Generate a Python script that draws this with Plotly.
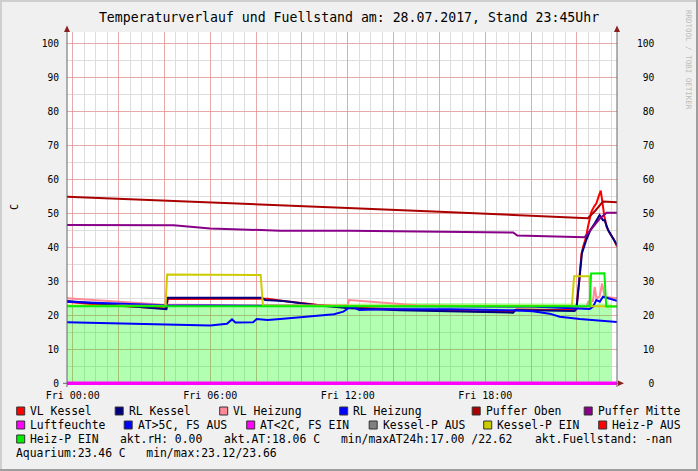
import pandas as pd
import plotly.graph_objects as go

# ---------------- data ----------------
DAY = pd.Timestamp("2017-07-28 00:00")
title_text = "Temperaturverlauf und Fuellstand am: 28.07.2017, Stand 23:45Uhr"

# hours after 00:00 (28.07.2017) and values in C
aqua_h = [-0.25, 3.0, 6.0, 9.0, 12.0, 15.0, 18.0, 21.0, 23.5]
aqua_v = [23.2, 23.15, 23.12, 23.3, 23.5, 23.66, 23.6, 23.5, 23.46]

vlk_h = [-0.25, 1.0, 2.5, 3.82, 4.1, 4.14, 8.25, 8.5, 9.2, 10.65, 12.1, 14.28, 19.22, 19.36, 21.0, 21.98,
         22.1, 22.2, 22.27, 22.4, 22.48, 22.56, 22.63, 22.75, 22.85, 22.95, 23.04, 23.1, 23.2, 23.3, 23.45, 23.6, 23.75]
vlk_v = [24.0, 23.2, 22.6, 22.0, 22.0, 24.8, 24.8, 24.9, 24.2, 23.1, 22.3, 21.7, 21.0, 21.7, 21.6, 21.8,
         30.0, 38.0, 40.2, 43.0, 46.0, 49.0, 50.5, 52.0, 53.0, 55.0, 56.7, 54.0, 49.0, 46.0, 44.0, 42.5, 40.2]

rlk_h = [-0.25, 1.5, 3.0, 3.82, 4.08, 4.14, 8.25, 8.4, 9.19, 10.65, 12.1, 14.28, 19.22, 19.3, 21.9, 21.98,
         22.06, 22.15, 22.22, 22.41, 22.59, 22.78, 22.99, 23.14, 23.21, 23.36, 23.57, 23.75]
rlk_v = [24.2, 23.2, 22.3, 21.8, 21.8, 25.2, 25.2, 24.5, 24.2, 23.0, 22.1, 21.5, 20.8, 21.6, 21.3, 22.0,
         28.0, 34.3, 38.3, 42.2, 45.1, 47.1, 49.5, 48.0, 48.0, 45.1, 42.7, 40.7]

vlh_h = [-0.25, 2.0, 3.82, 8.3, 12.0, 12.05, 13.0, 15.0, 19.36, 22.41, 22.5, 22.7, 22.78, 22.85, 22.99, 23.1, 23.21, 23.75]
vlh_v = [25.0, 24.0, 23.2, 22.9, 22.9, 24.5, 24.0, 23.0, 22.5, 22.5, 24.0, 24.2, 28.4, 25.0, 25.5, 29.4, 25.5, 25.0]

rlh_h = [-0.25, 2.0, 4.0, 8.0, 12.0, 16.0, 20.0, 22.56, 22.7, 22.85, 23.0, 23.14, 23.75]
rlh_v = [24.0, 23.5, 23.0, 22.8, 22.7, 22.7, 22.6, 21.9, 22.5, 24.5, 24.0, 25.5, 24.3]

po_h = [-0.25, 4.0, 8.0, 12.0, 16.0, 20.0, 22.48, 22.8, 23.14, 23.75]
po_v = [54.9, 53.8, 52.8, 51.6, 50.5, 49.4, 48.6, 50.8, 53.5, 53.3]

pm_h = [-0.25, 4.4, 6.0, 8.2, 9.05, 12.1, 19.22, 19.4, 22.34, 22.7, 23.0, 23.29, 23.75]
pm_v = [46.6, 46.5, 45.6, 45.0, 44.9, 44.9, 44.4, 43.5, 43.0, 46.0, 48.5, 50.2, 50.2]

rh_h = [-0.25, 23.75]
rh_v = [0.0, 0.0]

at_h = [-0.25, 2.0, 4.0, 6.0, 6.73, 6.95, 7.1, 7.87, 8.03, 8.5, 9.19, 10.65, 11.4, 11.81, 12.03, 12.2, 12.5,
        13.55, 16.46, 19.22, 20.07, 20.81, 21.25, 22.12, 23.0, 23.75]
at_v = [18.0, 17.6, 17.2, 17.0, 17.5, 18.8, 17.9, 18.0, 18.9, 18.6, 19.0, 19.8, 20.3, 21.1, 22.1, 22.6, 21.6,
        21.8, 21.8, 21.5, 21.2, 20.5, 19.6, 18.9, 18.4, 18.06]

kp_h = [-0.25, 4.05, 4.12, 8.2, 8.3, 21.78, 21.88, 22.55, 22.62, 23.75]
kp_v = [22.8, 22.8, 32.0, 31.9, 22.8, 22.8, 31.5, 31.5, 22.7, 22.7]

hp_h = [-0.25, 22.55, 22.62, 23.2, 23.28, 23.75]
hp_v = [22.7, 22.7, 32.3, 32.4, 22.6, 22.6]

x_tick_hours = [0, 2, 4, 6, 8, 10, 12, 14, 16, 18, 20, 22]
x_tick_labels = ["Fri 00:00", "", "", "Fri 06:00", "", "", "Fri 12:00", "", "", "Fri 18:00", "", ""]
y_ticks = [0, 10, 20, 30, 40, 50, 60, 70, 80, 90, 100]
y_range = [-0.5, 103.4]

legend_rows = [
    [("VL Kessel", "#ff0000"), ("RL Kessel", "#000080"), ("VL Heizung", "#ff8899"),
     ("RL Heizung", "#0000ff"), ("Puffer Oben", "#aa0000"), ("Puffer Mitte", "#880088")],
    [("Luftfeuchte", "#ff00ff"), ("AT>5C, FS AUS", "#0000ff"), ("AT<2C, FS EIN", "#ff00ff"),
     ("Kessel-P AUS", "#808080"), ("Kessel-P EIN", "#cccc00"), ("Heiz-P AUS", "#ff0000")],
    [("Heiz-P EIN", "#00ee00")],
]
info_row3 = ["akt.rH: 0.00", "akt.AT:18.06 C", "min/maxAT24h:17.00 /22.62", "akt.Fuellstand: -nan"]
info_row4 = "Aquarium:23.46 C   min/max:23.12/23.66"
watermark = "RRDTOOL / TOBI OETIKER"

# ---------------- layout geometry ----------------
W, H = 698, 471
PL, PR, PT, PB = 67, 617, 32, 385
FONT = "DejaVu Sans Mono"


def px(x):
    return (x - PL) / (PR - PL)


def py(y):
    return (PB - y) / (PB - PT)


def tx(hours):
    return [DAY + pd.Timedelta(hours=h) for h in hours]


fig = go.Figure()

fig.add_trace(go.Scatter(x=tx(aqua_h), y=aqua_v, mode="lines", line=dict(width=0),
                         fill="tozeroy", fillcolor="rgba(0,255,0,0.30)", hoverinfo="skip"))

series = [
    (vlk_h, vlk_v, "#ff0000", 2),
    (rlk_h, rlk_v, "#000080", 2),
    (vlh_h, vlh_v, "#ff8899", 2),
    (rlh_h, rlh_v, "#0000ff", 2),
    (po_h, po_v, "#aa0000", 2),
    (pm_h, pm_v, "#880088", 2),
    (rh_h, rh_v, "#ff00ff", 3.5),
    (at_h, at_v, "#0000ff", 2),
    (kp_h, kp_v, "#cccc00", 2),
    (hp_h, hp_v, "#00ee00", 2),
]
for hs, vs, col, w in series:
    fig.add_trace(go.Scatter(x=tx(hs), y=vs, mode="lines", line=dict(color=col, width=w)))

# dummy trace for right axis
fig.add_trace(go.Scatter(x=tx([-0.25]), y=[0], yaxis="y2", mode="lines", showlegend=False,
                         line=dict(width=0), hoverinfo="skip"))

MAJ = "rgba(240,120,120,0.5)"
MIN = "#dddddd"

shapes = []
annotations = []

# axis extensions and arrows
AX = "#666666"
ARR = "#8b1f1f"
shapes.append(dict(type="line", xref="paper", yref="y", x0=px(63), x1=px(619), y0=0, y1=0,
                   line=dict(color=AX, width=1), layer="below"))
shapes.append(dict(type="path", xref="paper", yref="paper",
                   path=f"M {px(624)} {py(383.3)} L {px(618)} {py(380.5)} L {px(618)} {py(386.1)} Z",
                   fillcolor=ARR, line=dict(width=0)))
for ax_x in (PL, PR):
    shapes.append(dict(type="line", xref="paper", yref="paper", x0=px(ax_x), x1=px(ax_x),
                       y0=py(PB + 2), y1=py(30), line=dict(color=AX, width=1)))
    shapes.append(dict(type="path", xref="paper", yref="paper",
                       path=f"M {px(ax_x)} {py(25.5)} L {px(ax_x - 3)} {py(32)} L {px(ax_x + 3)} {py(32)} Z",
                       fillcolor=ARR, line=dict(width=0)))

# frame
shapes.append(dict(type="rect", xref="paper", yref="paper", x0=px(0), x1=px(698), y0=py(0), y1=py(2),
                   fillcolor="#cfcfcf", line=dict(width=0)))
shapes.append(dict(type="rect", xref="paper", yref="paper", x0=px(0), x1=px(2), y0=py(0), y1=py(471),
                   fillcolor="#cfcfcf", line=dict(width=0)))
shapes.append(dict(type="rect", xref="paper", yref="paper", x0=px(696), x1=px(698), y0=py(0), y1=py(471),
                   fillcolor="#9e9e9e", line=dict(width=0)))
shapes.append(dict(type="rect", xref="paper", yref="paper", x0=px(0), x1=px(698), y0=py(469), y1=py(471),
                   fillcolor="#9e9e9e", line=dict(width=0)))

# legend
row_y = [411, 425, 439, 453]
row_text_x = [
    [30, 128.5, 233, 353, 485.5, 597.5],
    [30, 137.5, 260, 382.5, 497, 612],
    [30],
]
LFS = 11.4
for r, row in enumerate(legend_rows):
    for (label, col), x0 in zip(row, row_text_x[r]):
        sx = x0 - 13.3
        shapes.append(dict(type="rect", xref="paper", yref="paper",
                           x0=px(sx), x1=px(sx + 8), y0=py(row_y[r] - 4), y1=py(row_y[r] + 4),
                           fillcolor=col, line=dict(color="#333333", width=1)))
        annotations.append(dict(text=label, xref="paper", yref="paper", x=px(x0), y=py(row_y[r]),
                                xanchor="left", yanchor="middle", showarrow=False,
                                font=dict(family=FONT, size=LFS, color="#000000"),
                                borderpad=0, borderwidth=0))
for txt, x0 in zip(info_row3, [120, 224, 341, 534.7]):
    annotations.append(dict(text=txt.replace(" ", "\u00a0"), xref="paper", yref="paper", x=px(x0), y=py(row_y[2]),
                            xanchor="left", yanchor="middle", showarrow=False,
                            font=dict(family=FONT, size=LFS, color="#000000"), borderpad=0, borderwidth=0))
annotations.append(dict(text=info_row4.replace(" ", "\u00a0"), xref="paper", yref="paper", x=px(16), y=py(row_y[3]),
                        xanchor="left", yanchor="middle", showarrow=False,
                        font=dict(family=FONT, size=LFS, color="#000000"), borderpad=0, borderwidth=0))

# y axis title
annotations.append(dict(text="C", xref="paper", yref="paper", x=px(14), y=py(207), textangle=-90,
                        xanchor="center", yanchor="middle", showarrow=False,
                        font=dict(family=FONT, size=10, color="#000000")))
# watermark
annotations.append(dict(text=watermark, xref="paper", yref="paper", x=px(688), y=py(60), textangle=90,
                        xanchor="center", yanchor="middle", showarrow=False,
                        font=dict(family=FONT, size=7.5, color="#bbbbbb")))

right_labels = [("\u00a0" * (3 - len(str(v)))) + str(v) for v in y_ticks]

fig.update_layout(
    width=W, height=H,
    margin=dict(l=PL, r=W - PR, t=PT, b=H - PB, pad=0),
    paper_bgcolor="#f0f0f0", plot_bgcolor="#ffffff",
    showlegend=False,
    font=dict(family=FONT, size=10, color="#000000"),
    title=dict(text=title_text, x=0.5, xref="container", xanchor="center",
               y=1 - 17 / H, yref="container", yanchor="middle",
               font=dict(family=FONT, size=13.2, color="#000000")),
    xaxis=dict(type="date",
               range=[DAY + pd.Timedelta(hours=-0.25), DAY + pd.Timedelta(hours=23.75)],
               tickmode="array", tickvals=tx(x_tick_hours), ticktext=x_tick_labels,
               showgrid=True, gridcolor=MAJ, gridwidth=1, zeroline=False, showline=False,
               ticks="", ticklabelstandoff=3, tickfont=dict(family=FONT, size=10),
               minor=dict(tickmode="linear", tick0=DAY, dtick=30 * 60 * 1000, showgrid=True,
                          gridcolor=MIN, gridwidth=1, ticks="")),
    yaxis=dict(range=y_range, tickmode="array", tickvals=y_ticks, ticktext=[str(v) for v in y_ticks],
               showgrid=True, gridcolor=MAJ, gridwidth=1, zeroline=False, showline=False,
               ticks="", ticklabelstandoff=7, tickfont=dict(family=FONT, size=9.6),
               minor=dict(tickmode="linear", tick0=0, dtick=5, showgrid=True, gridcolor=MIN, gridwidth=1,
                          ticks="")),
    yaxis2=dict(range=y_range, overlaying="y", side="right", tickmode="array", tickvals=y_ticks,
                ticktext=right_labels, showgrid=False, zeroline=False, showline=False,
                ticks="", ticklabelstandoff=19, tickfont=dict(family=FONT, size=9.6)),
    shapes=shapes,
    annotations=annotations,
)

fig.write_html("out.html", config={"displayModeBar": False},
               post_script="document.body.style.margin='0px';document.body.style.padding='0px';")
